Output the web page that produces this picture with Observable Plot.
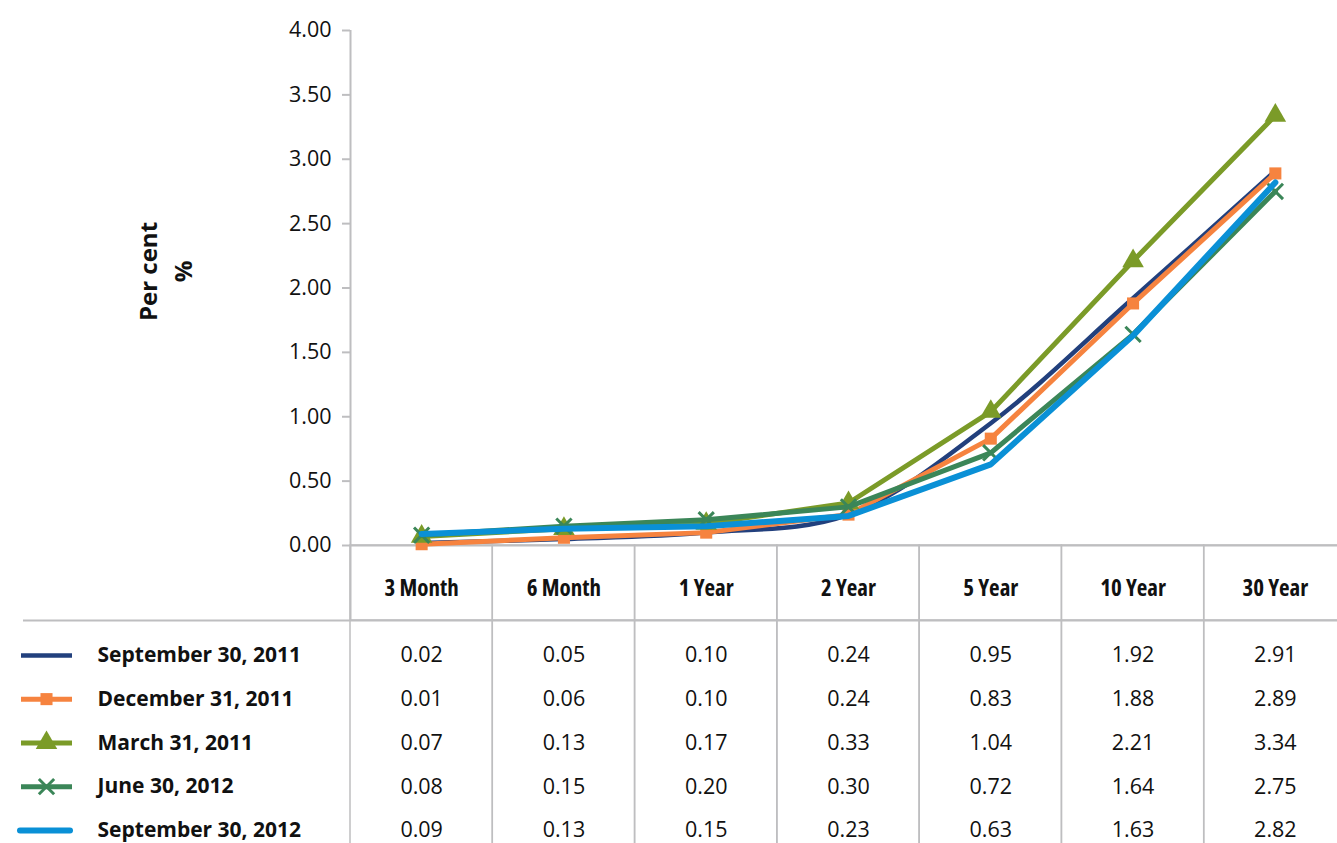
<!DOCTYPE html>
<html><head><meta charset="utf-8">
<script src="https://cdn.jsdelivr.net/npm/d3@7"></script>
<script src="https://cdn.jsdelivr.net/npm/@observablehq/plot@0.6"></script>
<style>
body{margin:0;background:#fff;}
#chart svg{display:block;}
.cond text{font-stretch:75%;}
</style>
</head><body><div id="chart"></div>
<script>
// ---- data ----
const tenors = ["3 Month","6 Month","1 Year","2 Year","5 Year","10 Year","30 Year"];
const seriesNames = ["September 30, 2011","December 31, 2011","March 31, 2011","June 30, 2012","September 30, 2012"];
const sep2011 = [0.02,0.05,0.10,0.24,0.95,1.92,2.91];
const dec2011 = [0.01,0.06,0.10,0.24,0.83,1.88,2.89];
const mar2011 = [0.07,0.13,0.17,0.33,1.04,2.21,3.34];
const jun2012 = [0.08,0.15,0.20,0.30,0.72,1.64,2.75];
const sep2012 = [0.09,0.13,0.15,0.23,0.63,1.63,2.82];
const yTicks = [0,0.5,1,1.5,2,2.5,3,3.5,4];
const yLabel = "Per cent\n%";

// ---- styles ----
const colors = ["#22407d","#f6833f","#7b9b28","#3b8658","#0a90d6"];
const lineWidths = [4.5,5,5,5,6];
const curves = ["catmull-rom","linear","linear","linear","linear"];
const symbols = [null,"square","triangle","times",null];
const symbolR = [0,6.8,8,7,0];

const valuesBySeries = [sep2011, dec2011, mar2011, jun2012, sep2012];
const rows = seriesNames.flatMap((s,i)=> tenors.map((t,j)=>({series:s, tenor:t, value: valuesBySeries[i][j]})));

const FONT = "'Open Sans','Noto Sans',sans-serif";
const GRID = "#bebec0";
const W = 1337, LEFT = 350, RIGHT = 1346;
const BW = (RIGHT-LEFT)/tenors.length;

const seriesMarks = seriesNames.flatMap((s,i)=>{
  const d = rows.filter(r=>r.series===s);
  const m = [Plot.line(d, {x:"tenor", y:"value", stroke:"series", strokeWidth:lineWidths[i], curve:curves[i]})];
  if (symbols[i] === "times") m.push(Plot.dot(d, {x:"tenor", y:"value", symbol:"times", r:symbolR[i], stroke:colors[i], strokeWidth:3, fill:"none"}));
  else if (symbols[i]) m.push(Plot.dot(d, {x:"tenor", y:"value", symbol:symbols[i], r:symbolR[i], fill:colors[i], stroke:"none"}));
  return m;
});

const topPlot = Plot.plot({
  width: W, height: 621, marginTop: 30, marginBottom: 76, marginLeft: LEFT, marginRight: W-RIGHT,
  style: {fontFamily: FONT, background: "#fff", overflow: "visible"},
  x: {type: "band", domain: tenors, padding: 0, round: false, label: null},
  y: {domain: [0,4], label: null},
  color: {domain: seriesNames, range: colors},
  marks: [
    Plot.cell(tenors, {x: d=>d, stroke: GRID, strokeWidth: 1.5, fill: "none", insetTop: 515, insetBottom: -75}),
    Plot.ruleX([tenors[0]], {x: d=>d, dx: -BW/2, stroke: GRID, strokeWidth: 2, insetBottom: -76}),
    Plot.ruleY(yTicks, {y: d=>d, insetLeft: -8, insetRight: RIGHT-LEFT, stroke: GRID, strokeWidth: 2}),
    Plot.ruleY([0], {y: d=>d, stroke: GRID, strokeWidth: 2}),
    Plot.ruleY([0], {y: d=>d, dy: 75, insetLeft: -327, stroke: GRID, strokeWidth: 2}),
    Plot.axisY({ticks: yTicks, tickFormat: d=>d.toFixed(2), tickSize: 0, tickPadding: 19, fontSize: 21.5, fill: "#111", label: null}),
    Plot.axisX({tickSize: 0, tickPadding: 34, fontSize: 23, fontWeight: "bold", fill: "#111", label: null, className: "cond"}),
    Plot.text([yLabel], {text: d=>d, frameAnchor: "left", textAnchor: "middle", rotate: -90, dx: -187.5, dy: -16.5, fontSize: 24, fontWeight: "bold", lineHeight: 1.45, fill: "#111"}),
    ...seriesMarks
  ]
});

const legendMarks = seriesNames.flatMap((s,i)=>{
  const m = [Plot.ruleY([s], {y: d=>d, stroke: colors[i], strokeWidth: lineWidths[i], strokeLinecap: i===4 ? "round" : "butt", insetLeft: i===4 ? -330 : -329, insetRight: i===4 ? RIGHT-70 : RIGHT-72})];
  if (symbols[i] === "times") m.push(Plot.dot([s], {y: d=>d, frameAnchor: "left", dx: -304, symbol: "times", r: symbolR[i], stroke: colors[i], strokeWidth: 3, fill: "none"}));
  else if (symbols[i]) m.push(Plot.dot([s], {y: d=>d, frameAnchor: "left", dx: -304, symbol: symbols[i], r: symbolR[i], fill: colors[i], stroke: "none"}));
  return m;
});

const bottomPlot = Plot.plot({
  width: W, height: 222, marginTop: 12, marginBottom: 222-12-5*43.75, marginLeft: LEFT, marginRight: W-RIGHT,
  style: {fontFamily: FONT, background: "#fff"},
  x: {type: "band", domain: tenors, padding: 0, round: false, axis: null},
  y: {type: "band", domain: seriesNames, padding: 0, round: false, axis: null},
  marks: [
    Plot.cell(tenors, {x: d=>d, stroke: GRID, strokeWidth: 1.5, fill: "none", insetTop: -30, insetBottom: -30}),
    ...legendMarks,
    Plot.text(seriesNames, {y: d=>d, text: d=>d, frameAnchor: "left", textAnchor: "start", dx: -253, fontSize: 21, fontWeight: "bold", fill: "#111"}),
    Plot.text(rows, {x: "tenor", y: "series", text: d=>d.value.toFixed(2), fontSize: 21.5, fill: "#111"})
  ]
});

const el = document.getElementById("chart");
el.appendChild(topPlot);
el.appendChild(bottomPlot);
</script>
</body></html>
